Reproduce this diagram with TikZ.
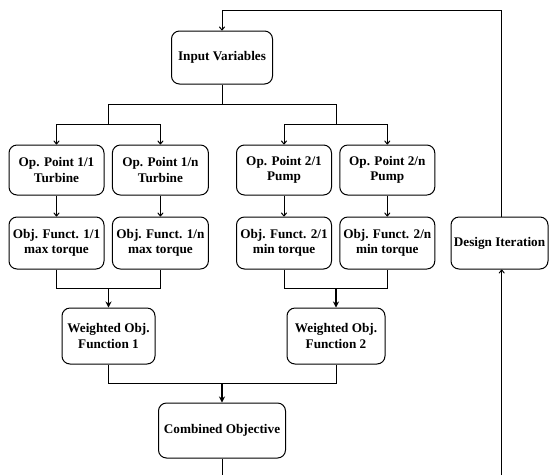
\documentclass[tikz,border=0pt]{standalone}
\usepackage{fontspec}
\setmainfont{Liberation Serif}
\usetikzlibrary{arrows.meta}
\begin{document}
\begin{tikzpicture}[x=1pt,y=-1pt,
  box/.style={draw, line width=1pt, rounded corners=8pt, align=center, inner sep=0pt,
    font=\fontsize{13.2}{15.5}\selectfont\bfseries},
  conn/.style={line width=1pt},
  arr/.style={conn, -{To[length=4pt,width=6pt]}},
  arrb/.style={line width=1.5pt, -{Stealth[length=6pt,width=6pt]}}]
\useasboundingbox (0,0) rectangle (549,475);
% nodes
\node[box, minimum width=101pt, minimum height=53pt] (in) at (222,57.5) {Input Variables};
\node[box, minimum width=95pt, minimum height=50pt] (op11) at (56.5,170) {Op. Point 1/1\\Turbine};
\node[box, minimum width=96pt, minimum height=50pt] (op1n) at (160.4,170) {Op. Point 1/n\\Turbine};
\node[box, minimum width=95pt, minimum height=50pt] (op21) at (284,170) {Op. Point 2/1\\Pump};
\node[box, minimum width=95pt, minimum height=50pt] (op2n) at (387.3,170) {Op. Point 2/n\\Pump};
\node[box, minimum width=95pt, minimum height=52pt] (of11) at (56.5,243) {Obj. Funct. 1/1\\max torque};
\node[box, minimum width=96pt, minimum height=52pt] (of1n) at (160.4,243) {Obj. Funct. 1/n\\max torque};
\node[box, minimum width=95pt, minimum height=52pt] (of21) at (284,243) {Obj. Funct. 2/1\\min torque};
\node[box, minimum width=95pt, minimum height=52pt] (of2n) at (387.3,243) {Obj. Funct. 2/n\\min torque};
\node[box, minimum width=93pt, minimum height=56pt] (w1) at (108.5,336) {Weighted Obj.\\Function 1};
\node[box, minimum width=98pt, minimum height=56pt] (w2) at (336,336) {Weighted Obj.\\Function 2};
\node[box, minimum width=127pt, minimum height=55pt] (comb) at (222,430.5) {Combined Objective};
\node[box, minimum width=97pt, minimum height=52pt] (di) at (499.5,243) {Design Iteration};
% helper rows
\coordinate (rtop) at (0,10);
\coordinate (r1) at (0,104);
\coordinate (r2) at (0,124);
\coordinate (r3) at (0,288);
\coordinate (r4) at (0,383);
\coordinate (rbot) at (0,475);
\coordinate (fb) at (501.7,0);
% distribution
\draw[conn] (in.south) -- (in.south |- r1);
\draw[conn] (w1.north |- r1) -- (w2.north |- r1);
\draw[conn] (w1.north |- r1) -- (w1.north |- r2);
\draw[conn] (w2.north |- r1) -- (w2.north |- r2);
\draw[conn] (op11.north |- r2) -- (op1n.north |- r2);
\draw[conn] (op21.north |- r2) -- (op2n.north |- r2);
\draw[arr] (op11.north |- r2) -- (op11.north);
\draw[arr] (op1n.north |- r2) -- (op1n.north);
\draw[arr] (op21.north |- r2) -- (op21.north);
\draw[arr] (op2n.north |- r2) -- (op2n.north);
% op -> obj
\draw[arr] (op11) -- (of11);
\draw[arr] (op1n) -- (of1n);
\draw[arr] (op21) -- (of21);
\draw[arr] (op2n) -- (of2n);
% merge to weighted
\draw[conn] (of11.south) -- (of11.south |- r3) -- (of1n.south |- r3) -- (of1n.south);
\draw[conn] (of21.south) -- (of21.south |- r3) -- (of2n.south |- r3) -- (of2n.south);
\draw[arrb] (w1.north |- r3) -- (w1.north);
\draw[arrb] (w2.north |- r3) -- (w2.north);
% merge to combined
\draw[conn] (w1.south) -- (w1.south |- r4) -- (w2.south |- r4) -- (w2.south);
\draw[arrb] (comb.north |- r4) -- (comb.north);
\draw[conn] (comb.south) -- (comb.south |- rbot);
% feedback
\draw[arr] (fb |- rbot) -- (fb |- di.south);
\draw[arr] (fb |- di.north) -- (fb |- rtop) -- (in.north |- rtop) -- (in.north);
\end{tikzpicture}
\end{document}
